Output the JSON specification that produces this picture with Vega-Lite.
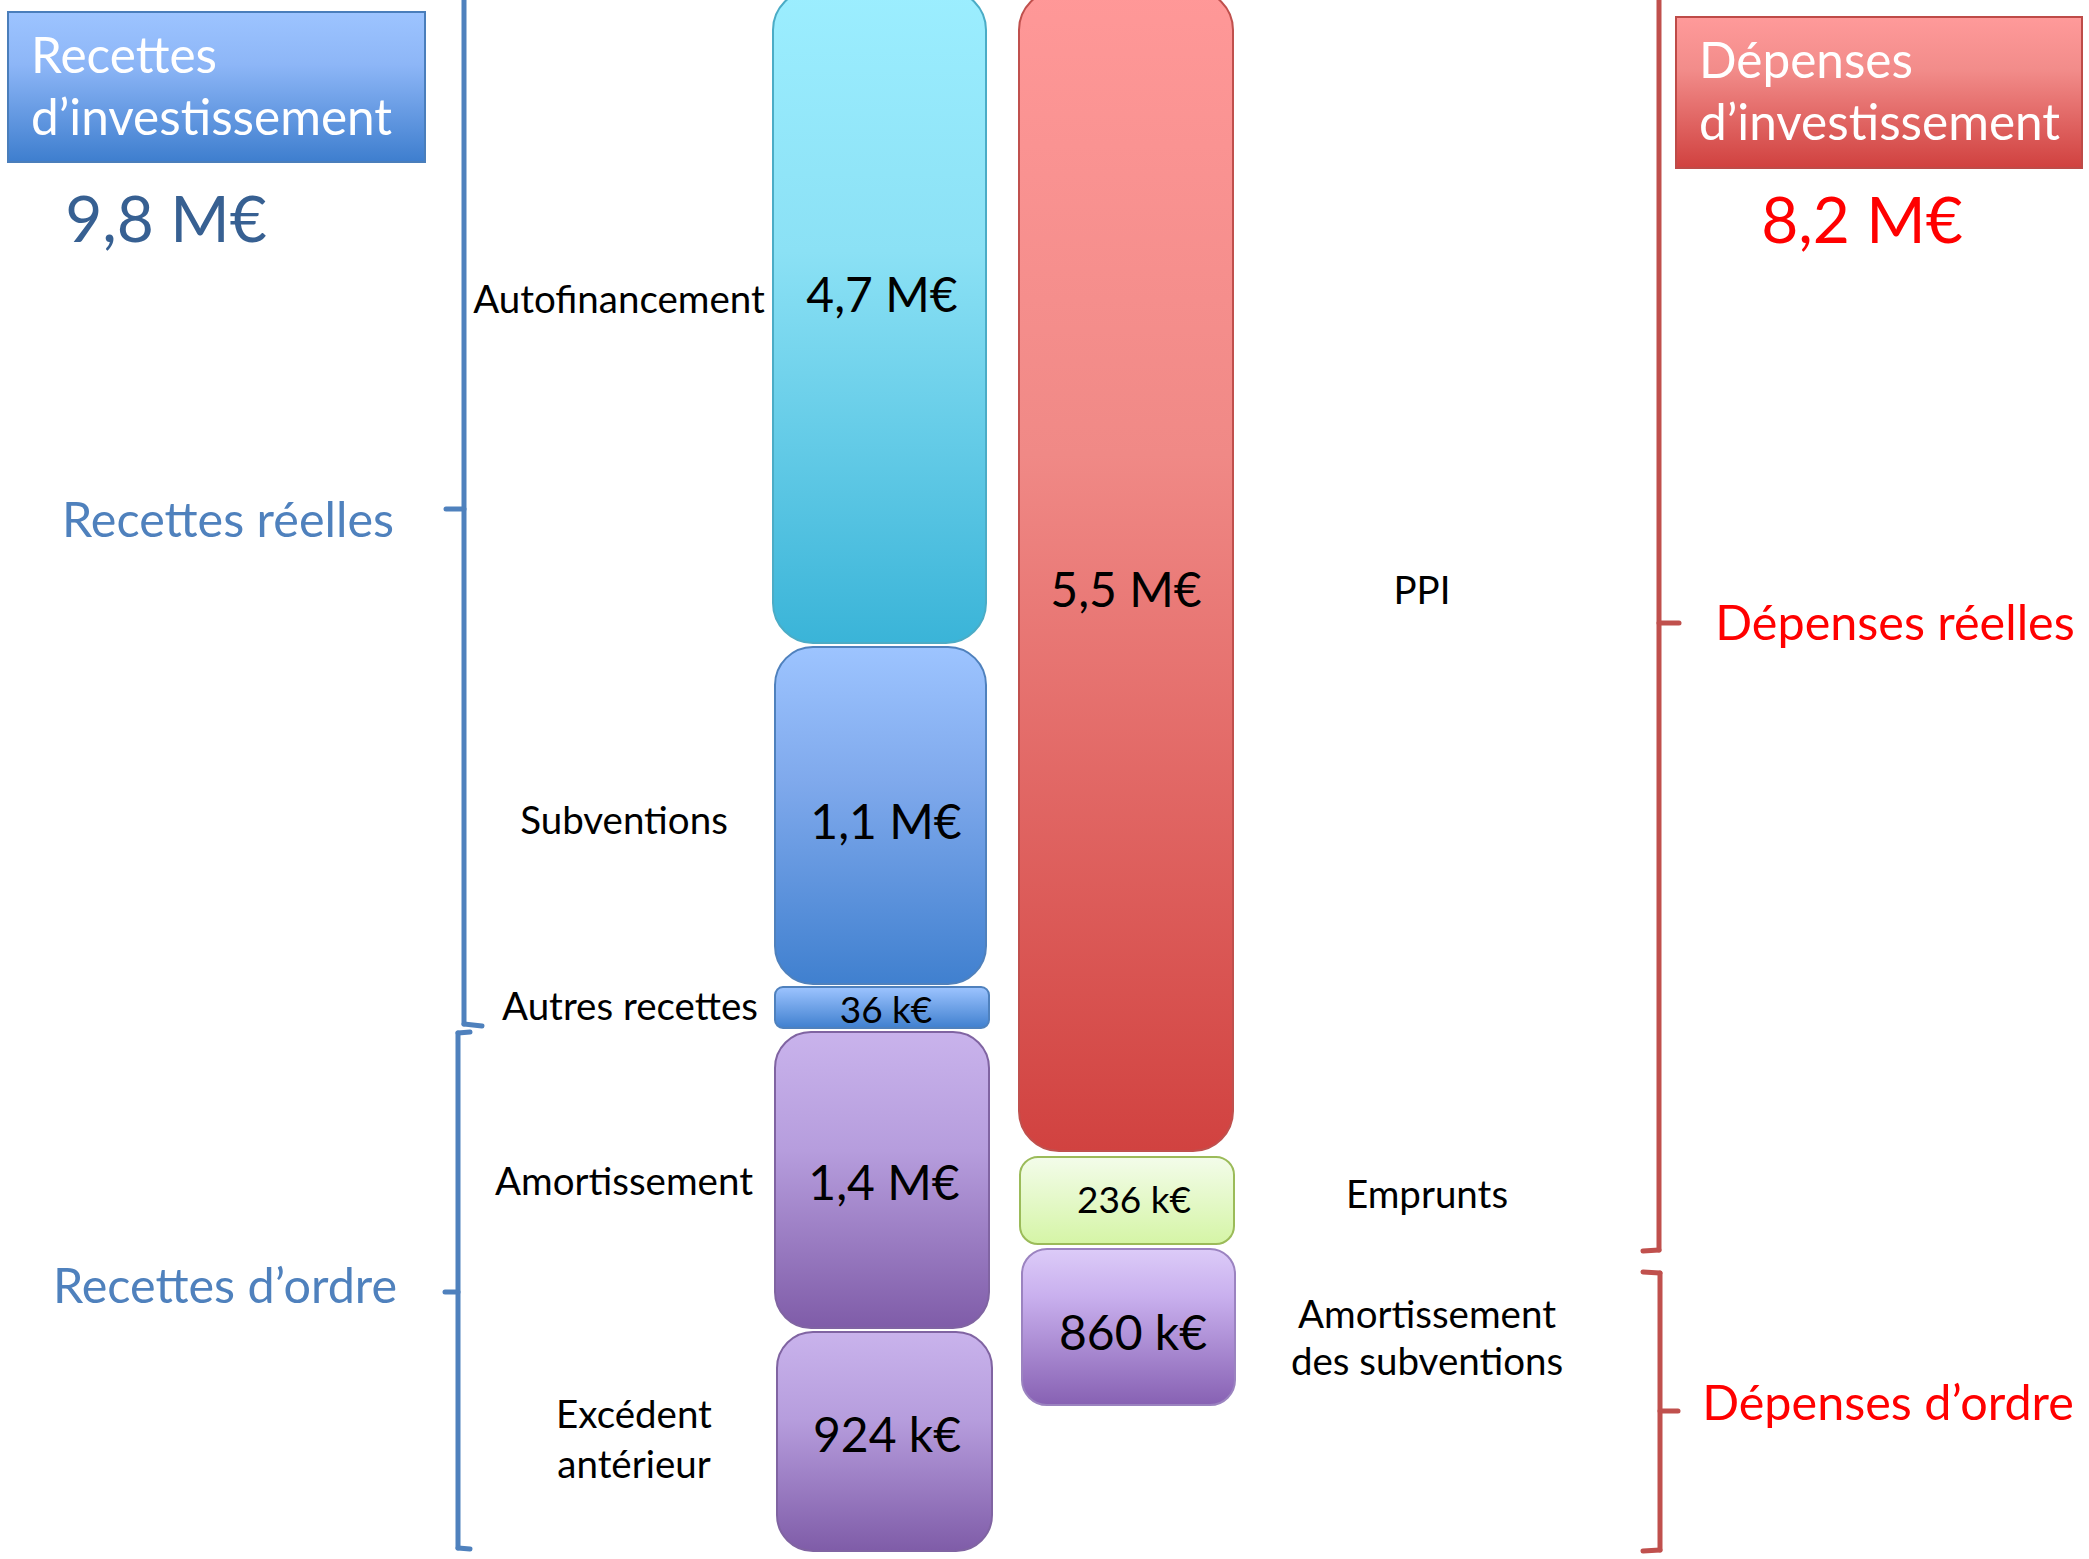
{
  "$schema": "https://vega.github.io/schema/vega-lite/v6.json",
  "width": 2089,
  "height": 1559,
  "autosize": {"type": "fit", "contains": "padding"},
  "padding": 0,
  "background": "white",
  "config": {"view": {"stroke": null}, "font": "Lato", "text": {"font": "Lato"}},
  "datasets": {
    "boxes": [
      {"box": "Recettes d’investissement", "x": 8, "x2": 425, "y": 12, "y2": 162},
      {"box": "Dépenses d’investissement", "x": 1676, "x2": 2082, "y": 17, "y2": 168}
    ],
    "bars": [
      {"item": "Autofinancement", "montant": "4,7 M€", "x": 773, "x2": 986, "y": -10, "y2": 643},
      {"item": "Subventions", "montant": "1,1 M€", "x": 775, "x2": 986, "y": 647, "y2": 984},
      {"item": "Autres recettes", "montant": "36 k€", "x": 775, "x2": 989, "y": 987, "y2": 1028},
      {"item": "Amortissement", "montant": "1,4 M€", "x": 775, "x2": 989, "y": 1032, "y2": 1328},
      {"item": "Excédent antérieur", "montant": "924 k€", "x": 777, "x2": 992, "y": 1332, "y2": 1551},
      {"item": "PPI", "montant": "5,5 M€", "x": 1019, "x2": 1233, "y": -10, "y2": 1151},
      {"item": "Emprunts", "montant": "236 k€", "x": 1020, "x2": 1234, "y": 1157, "y2": 1244},
      {"item": "Amortissement des subventions", "montant": "860 k€", "x": 1022, "x2": 1235, "y": 1249, "y2": 1405}
    ],
    "brackets": [
      {"side": "Recettes", "x": 464, "x2": 464, "y": -5, "y2": 1024},
      {"side": "Recettes", "x": 446, "x2": 464, "y": 509, "y2": 509},
      {"side": "Recettes", "x": 464, "x2": 482, "y": 1024, "y2": 1026},
      {"side": "Recettes", "x": 458, "x2": 470, "y": 1033, "y2": 1032},
      {"side": "Recettes", "x": 458, "x2": 458, "y": 1033, "y2": 1548},
      {"side": "Recettes", "x": 445, "x2": 458, "y": 1292, "y2": 1292},
      {"side": "Recettes", "x": 458, "x2": 470, "y": 1548, "y2": 1549},
      {"side": "Dépenses", "x": 1659, "x2": 1659, "y": -5, "y2": 1250},
      {"side": "Dépenses", "x": 1659, "x2": 1679, "y": 623, "y2": 623},
      {"side": "Dépenses", "x": 1643, "x2": 1659, "y": 1251, "y2": 1250},
      {"side": "Dépenses", "x": 1643, "x2": 1660, "y": 1272, "y2": 1273},
      {"side": "Dépenses", "x": 1660, "x2": 1660, "y": 1273, "y2": 1550},
      {"side": "Dépenses", "x": 1660, "x2": 1678, "y": 1411, "y2": 1411},
      {"side": "Dépenses", "x": 1643, "x2": 1660, "y": 1551, "y2": 1550}
    ],
    "montants": [
      {"label": "4,7 M€", "role": "grand", "x": 882, "y": 312},
      {"label": "1,1 M€", "role": "grand", "x": 886, "y": 839},
      {"label": "36 k€", "role": "petit", "x": 886, "y": 1023},
      {"label": "1,4 M€", "role": "grand", "x": 884, "y": 1200},
      {"label": "924 k€", "role": "grand", "x": 887, "y": 1452},
      {"label": "5,5 M€", "role": "grand", "x": 1126, "y": 607},
      {"label": "236 k€", "role": "petit", "x": 1134, "y": 1213},
      {"label": "860 k€", "role": "grand", "x": 1133, "y": 1350}
    ],
    "categories": [
      {"label": "Autofinancement", "x": 619, "y": 313},
      {"label": "Subventions", "x": 624, "y": 834},
      {"label": "Autres recettes", "x": 630, "y": 1020},
      {"label": "Amortissement", "x": 624, "y": 1195},
      {"label": "Excédent", "x": 634, "y": 1428},
      {"label": "antérieur", "x": 634, "y": 1478},
      {"label": "PPI", "x": 1422, "y": 604},
      {"label": "Emprunts", "x": 1427, "y": 1208},
      {"label": "Amortissement", "x": 1427, "y": 1328},
      {"label": "des subventions", "x": 1427, "y": 1375}
    ],
    "sections": [
      {"label": "Recettes réelles", "side": "Recettes", "x": 228, "y": 537},
      {"label": "Recettes d’ordre", "side": "Recettes", "x": 225, "y": 1303},
      {"label": "Dépenses réelles", "side": "Dépenses", "x": 1895, "y": 640},
      {"label": "Dépenses d’ordre", "side": "Dépenses", "x": 1888, "y": 1420}
    ],
    "totaux": [
      {"label": "9,8 M€", "side": "Recettes", "x": 166, "y": 242},
      {"label": "8,2 M€", "side": "Dépenses", "x": 1862, "y": 243}
    ],
    "titres": [
      {"label": "Recettes", "x": 31, "y": 73},
      {"label": "d’investissement", "x": 31, "y": 135},
      {"label": "Dépenses", "x": 1699, "y": 78},
      {"label": "d’investissement", "x": 1699, "y": 140}
    ]
  },
  "encoding": {
    "x": {"field": "x", "type": "quantitative", "scale": {"domain": [0, 2089], "nice": false, "zero": false}, "axis": null},
    "y": {"field": "y", "type": "quantitative", "scale": {"domain": [0, 1559], "reverse": true, "nice": false, "zero": false}, "axis": null}
  },
  "layer": [
    {
      "data": {"name": "boxes"},
      "transform": [{"filter": "datum.box === 'Recettes d’investissement'"}],
      "mark": {"type": "rect", "stroke": "#4A7EBB", "strokeWidth": 2,
        "fill": {"gradient": "linear", "x1": 0, "y1": 0, "x2": 0, "y2": 1,
          "stops": [{"offset": 0, "color": "#9DC4FF"}, {"offset": 0.35, "color": "#8DB6F7"}, {"offset": 1, "color": "#3E7ECE"}]}},
      "encoding": {"x2": {"field": "x2"}, "y2": {"field": "y2"}}
    },
    {
      "data": {"name": "boxes"},
      "transform": [{"filter": "datum.box === 'Dépenses d’investissement'"}],
      "mark": {"type": "rect", "stroke": "#BE4B48", "strokeWidth": 2,
        "fill": {"gradient": "linear", "x1": 0, "y1": 0, "x2": 0, "y2": 1,
          "stops": [{"offset": 0, "color": "#FF9A9A"}, {"offset": 0.35, "color": "#F28C8A"}, {"offset": 1, "color": "#D0413F"}]}},
      "encoding": {"x2": {"field": "x2"}, "y2": {"field": "y2"}}
    },
    {
      "data": {"name": "bars"},
      "transform": [{"filter": "datum.item === 'Autofinancement'"}],
      "mark": {"type": "rect", "cornerRadius": 40, "stroke": "#4BACC6", "strokeWidth": 2, "clip": true,
        "fill": {"gradient": "linear", "x1": 0, "y1": 0, "x2": 0, "y2": 1,
          "stops": [{"offset": 0, "color": "#9CEEFF"}, {"offset": 0.4, "color": "#8BE1F5"}, {"offset": 1, "color": "#3AB4D8"}]}},
      "encoding": {"x2": {"field": "x2"}, "y2": {"field": "y2"}}
    },
    {
      "data": {"name": "bars"},
      "transform": [{"filter": "datum.item === 'Subventions'"}],
      "mark": {"type": "rect", "cornerRadius": 38, "stroke": "#4F81BD", "strokeWidth": 2,
        "fill": {"gradient": "linear", "x1": 0, "y1": 0, "x2": 0, "y2": 1,
          "stops": [{"offset": 0, "color": "#9DC4FF"}, {"offset": 0.4, "color": "#7FA9EC"}, {"offset": 1, "color": "#4080CF"}]}},
      "encoding": {"x2": {"field": "x2"}, "y2": {"field": "y2"}}
    },
    {
      "data": {"name": "bars"},
      "transform": [{"filter": "datum.item === 'Autres recettes'"}],
      "mark": {"type": "rect", "cornerRadius": 8, "stroke": "#4F81BD", "strokeWidth": 2,
        "fill": {"gradient": "linear", "x1": 0, "y1": 0, "x2": 0, "y2": 1,
          "stops": [{"offset": 0, "color": "#9DC4FF"}, {"offset": 1, "color": "#4080CF"}]}},
      "encoding": {"x2": {"field": "x2"}, "y2": {"field": "y2"}}
    },
    {
      "data": {"name": "bars"},
      "transform": [{"filter": "datum.item === 'Amortissement' || datum.item === 'Excédent antérieur'"}],
      "mark": {"type": "rect", "cornerRadius": 36, "stroke": "#8064A2", "strokeWidth": 2,
        "fill": {"gradient": "linear", "x1": 0, "y1": 0, "x2": 0, "y2": 1,
          "stops": [{"offset": 0, "color": "#C9B3EC"}, {"offset": 0.4, "color": "#B69DDD"}, {"offset": 1, "color": "#7F5CA8"}]}},
      "encoding": {"x2": {"field": "x2"}, "y2": {"field": "y2"}}
    },
    {
      "data": {"name": "bars"},
      "transform": [{"filter": "datum.item === 'PPI'"}],
      "mark": {"type": "rect", "cornerRadius": 40, "stroke": "#C0504D", "strokeWidth": 2, "clip": true,
        "fill": {"gradient": "linear", "x1": 0, "y1": 0, "x2": 0, "y2": 1,
          "stops": [{"offset": 0, "color": "#FF9898"}, {"offset": 0.4, "color": "#F08986"}, {"offset": 1, "color": "#D14240"}]}},
      "encoding": {"x2": {"field": "x2"}, "y2": {"field": "y2"}}
    },
    {
      "data": {"name": "bars"},
      "transform": [{"filter": "datum.item === 'Emprunts'"}],
      "mark": {"type": "rect", "cornerRadius": 18, "stroke": "#9BBB59", "strokeWidth": 2,
        "fill": {"gradient": "linear", "x1": 0, "y1": 0, "x2": 0, "y2": 1,
          "stops": [{"offset": 0, "color": "#F3FCEA"}, {"offset": 1, "color": "#D5F5A6"}]}},
      "encoding": {"x2": {"field": "x2"}, "y2": {"field": "y2"}}
    },
    {
      "data": {"name": "bars"},
      "transform": [{"filter": "datum.item === 'Amortissement des subventions'"}],
      "mark": {"type": "rect", "cornerRadius": 25, "stroke": "#9B83C0", "strokeWidth": 2,
        "fill": {"gradient": "linear", "x1": 0, "y1": 0, "x2": 0, "y2": 1,
          "stops": [{"offset": 0, "color": "#DCCBF8"}, {"offset": 0.3, "color": "#C9B0EE"}, {"offset": 1, "color": "#8761B3"}]}},
      "encoding": {"x2": {"field": "x2"}, "y2": {"field": "y2"}}
    },
    {
      "data": {"name": "brackets"},
      "mark": {"type": "rule", "strokeWidth": 5, "strokeCap": "round", "clip": true},
      "encoding": {
        "x2": {"field": "x2"}, "y2": {"field": "y2"},
        "color": {"field": "side", "type": "nominal", "scale": {"domain": ["Recettes", "Dépenses"], "range": ["#4F81BD", "#C0504D"]}, "legend": null}
      }
    },
    {
      "data": {"name": "montants"},
      "transform": [{"filter": "datum.role === 'grand'"}],
      "mark": {"type": "text", "fontSize": 48, "align": "center", "baseline": "alphabetic", "color": "black"},
      "encoding": {"text": {"field": "label"}}
    },
    {
      "data": {"name": "montants"},
      "transform": [{"filter": "datum.role === 'petit'"}],
      "mark": {"type": "text", "fontSize": 37, "align": "center", "baseline": "alphabetic", "color": "black"},
      "encoding": {"text": {"field": "label"}}
    },
    {
      "data": {"name": "categories"},
      "mark": {"type": "text", "fontSize": 38.5, "align": "center", "baseline": "alphabetic", "color": "black"},
      "encoding": {"text": {"field": "label"}}
    },
    {
      "data": {"name": "sections"},
      "mark": {"type": "text", "fontSize": 48.5, "align": "center", "baseline": "alphabetic"},
      "encoding": {
        "text": {"field": "label"},
        "color": {"field": "side", "type": "nominal", "scale": {"domain": ["Recettes", "Dépenses"], "range": ["#4F81BD", "#FF0000"]}, "legend": null}
      }
    },
    {
      "data": {"name": "totaux"},
      "mark": {"type": "text", "fontSize": 64, "align": "center", "baseline": "alphabetic"},
      "encoding": {
        "text": {"field": "label"},
        "color": {"field": "side", "type": "nominal", "scale": {"domain": ["Recettes", "Dépenses"], "range": ["#376092", "#FF0000"]}, "legend": null}
      }
    },
    {
      "data": {"name": "titres"},
      "mark": {"type": "text", "fontSize": 49.5, "align": "left", "baseline": "alphabetic", "color": "white"},
      "encoding": {"text": {"field": "label"}}
    }
  ],
  "resolve": {"scale": {"color": "independent"}}
}
